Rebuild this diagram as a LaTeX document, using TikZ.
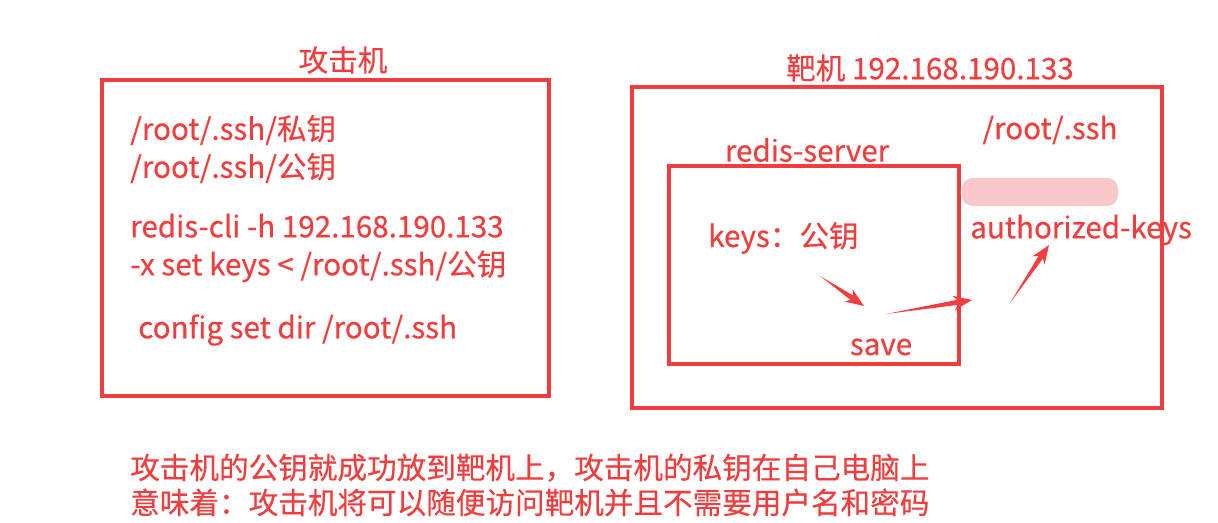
\documentclass[tikz,border=0pt]{standalone}
\usepackage{fontspec}
\setmainfont[FakeBold=0.4]{Noto Sans CJK SC}
\usetikzlibrary{positioning,calc}
\definecolor{markred}{HTML}{F03E3E}
\definecolor{blurpink}{HTML}{F9C8C8}
% tapered arrow from #1 to #2
\newcommand{\wedgearrow}[2]{%
 \path (#2) coordinate (tip) ($(#2)!11pt!(#1)$) coordinate (neck) ($(#2)!14pt!(#1)$) coordinate (barb);
 \fill[markred] (#1) -- ($(neck)!1.9pt!90:(tip)$) -- ($(barb)!5.5pt!90:(tip)$) -- (tip)
  -- ($(barb)!5.5pt!-90:(tip)$) -- ($(neck)!1.9pt!-90:(tip)$) -- cycle;}

\begin{document}
\begin{tikzpicture}[x=0.75pt,y=-0.75pt,
 frame/.style={draw=markred,line width=2.6pt},
 lbl/.style={text=markred,inner sep=0pt,font=\fontsize{22.2}{28.5}\selectfont},
 txt/.style={lbl,anchor=west,align=left}]
\useasboundingbox (0,0) rectangle (1218,522);

% attacker
\draw[frame] (102,80) rectangle (549,396);
\node[lbl] (atk) at (343,60) {攻击机};
\node[txt] (keypair) at (130,149) {/root/.ssh/私钥\\/root/.ssh/公钥};
\node[txt] (setkey) at (130,248) {redis-cli -h 192.168.190.133\\-x set keys < /root/.ssh/公钥};
\node[txt] (setdir) at (138,330) {config set dir /root/.ssh};

% target
\draw[frame] (632,87) rectangle (1162,408);
\draw[frame] (669,166) rectangle (959,364);
\node[lbl] (tgt) at (930,68) {靶机 192.168.190.133};
\node[lbl] (srv) at (807,150) {redis-server};
\node[lbl] (sshdir) at (1050,130) {/root/.ssh};
\fill[blurpink,rounded corners=8pt] (962,178) rectangle (1118,206);
\node[txt] (authkeys) at (970,230) {authorized-keys};
\node[txt] (keysval) at (708,238) {keys：公钥};
\node[lbl] (save) at (881,347) {save};

\coordinate (k-tail) at (820,276);
\coordinate (k-tip) at (864,306);
\coordinate (s-tail) at (886,314);
\coordinate (s-tip) at (972,300);
\coordinate (a-tail) at (1010,303);
\coordinate (a-tip) at (1049,245);
\wedgearrow{k-tail}{k-tip}
\wedgearrow{s-tail}{s-tip}
\wedgearrow{a-tail}{a-tip}

% note
\node[txt,font=\fontsize{22.2}{26.25}\selectfont] (note) at (130,485) {攻击机的公钥就成功放到靶机上，攻击机的私钥在自己电脑上\\意味着：攻击机将可以随便访问靶机并且不需要用户名和密码};
\end{tikzpicture}
\end{document}
